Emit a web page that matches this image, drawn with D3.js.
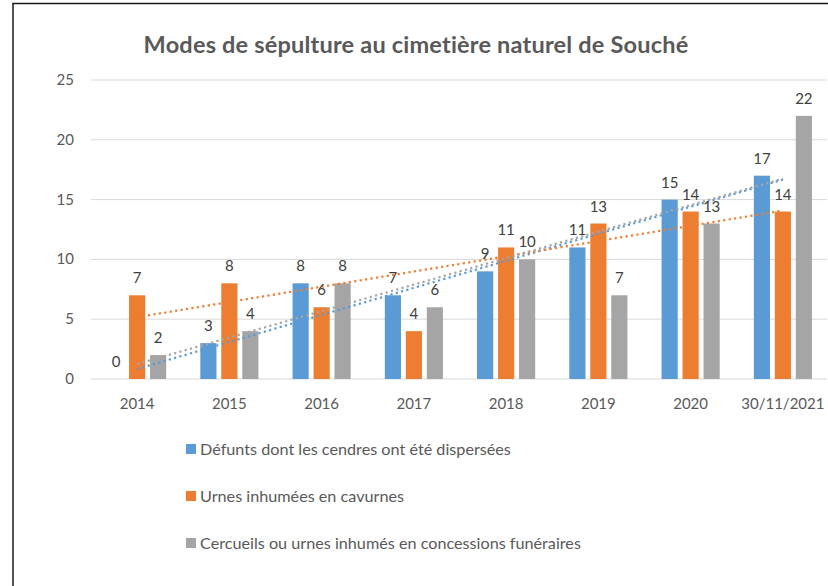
<!DOCTYPE html>
<html>
<head>
<meta charset="utf-8">
<script src="https://cdn.jsdelivr.net/npm/d3@7"></script>
<style>
  body { margin: 0; background: #fff; }
  text { font-family: Lato, "Open Sans", sans-serif; }
</style>
</head>
<body>
<div id="chart"></div>
<script>
//Data
const categories = ["2014", "2015", "2016", "2017", "2018", "2019", "2020", "30/11/2021"];
const dispersees = [0, 3, 8, 7, 9, 11, 15, 17];
const cavurnes = [7, 8, 6, 4, 11, 13, 14, 14];
const concessions = [2, 4, 8, 6, 10, 7, 13, 22];
const seriesNames = [
    "Défunts dont les cendres ont été dispersées",
    "Urnes inhumées en cavurnes",
    "Cercueils ou urnes inhumés en concessions funéraires"
];
const colors = ["#5B9BD5", "#ED7D31", "#A5A5A5"];
const yTicks = [0, 5, 10, 15, 20, 25];

//Dim
const width = 828;
const height = 586;
const plot = {left: 91, right: 829, top: 80, bottom: 379};

const series = [dispersees, cavurnes, concessions].map((values, i) => ({
    name: seriesNames[i],
    color: colors[i],
    values: values
}));

//Create SVG
const svg = d3.select("#chart")
    .append("svg")
    .attr("width", width)
    .attr("height", height);

//Frame
svg.append("rect")
    .attr("x", 13)
    .attr("y", 3.5)
    .attr("width", 900)
    .attr("height", 700)
    .attr("fill", "#fff")
    .attr("stroke", "#1a1a1a")
    .attr("stroke-width", 1.5);

//Scales
const x0 = d3.scaleBand()
    .domain(categories)
    .range([plot.left, plot.right]);

const x1 = d3.scaleBand()
    .domain(d3.range(series.length))
    .range([x0.bandwidth() * 0.185, x0.bandwidth() * 0.815])
    .paddingInner(0.23);

const y = d3.scaleLinear()
    .domain([0, 25])
    .range([plot.bottom, plot.top]);

//Gridlines
svg.append("g")
    .selectAll("line")
    .data(yTicks)
    .enter()
    .append("line")
    .attr("x1", plot.left)
    .attr("x2", plot.right - 2)
    .attr("y1", d => y(d))
    .attr("y2", d => y(d))
    .attr("stroke", "#d9d9d9")
    .attr("stroke-width", 1);

//Y labels
svg.append("g")
    .selectAll("text")
    .data(yTicks)
    .enter()
    .append("text")
    .text(d => d)
    .attr("x", 74)
    .attr("y", d => y(d) + 5)
    .attr("text-anchor", "end")
    .attr("font-size", 15)
    .attr("fill", "#595959");

//X labels
svg.append("g")
    .selectAll("text")
    .data(categories)
    .enter()
    .append("text")
    .text(d => d)
    .attr("x", d => x0(d) + x0.bandwidth() / 2)
    .attr("y", 409)
    .attr("text-anchor", "middle")
    .attr("font-size", 15)
    .attr("fill", "#595959");

//Bars
const groups = svg.append("g")
    .selectAll("g")
    .data(series)
    .enter()
    .append("g")
    .attr("fill", d => d.color);

groups.selectAll("rect")
    .data((d, i) => d.values.map((v, j) => ({v: v, cat: categories[j], s: i})))
    .enter()
    .append("rect")
    .attr("x", d => x0(d.cat) + x1(d.s))
    .attr("y", d => y(d.v))
    .attr("width", x1.bandwidth())
    .attr("height", d => y(0) - y(d.v));

//Trendlines (linear regression, like Excel)
const trend = svg.append("g");
series.forEach(s => {
    const pts = s.values.map((v, j) => [j + 1, v]);
    const mx = d3.mean(pts, p => p[0]);
    const my = d3.mean(pts, p => p[1]);
    const slope = d3.sum(pts, p => (p[0] - mx) * (p[1] - my)) / d3.sum(pts, p => (p[0] - mx) ** 2);
    const f = t => my + slope * (t - mx);
    const xc = t => x0(categories[t - 1]) + x0.bandwidth() / 2;
    trend.append("line")
        .attr("x1", xc(1))
        .attr("y1", y(f(1)))
        .attr("x2", xc(categories.length))
        .attr("y2", y(f(categories.length)))
        .attr("stroke", s.color)
        .attr("stroke-width", 2.2)
        .attr("stroke-dasharray", "2.2,3.3");
});

//Data labels
const labels = svg.append("g");
series.forEach((s, i) => {
    labels.selectAll(null)
        .data(s.values.map((v, j) => ({v: v, cat: categories[j]})))
        .enter()
        .append("text")
        .text(d => d.v)
        .attr("x", d => x0(d.cat) + x1(i) + x1.bandwidth() / 2)
        .attr("y", d => y(d.v) - 12)
        .attr("text-anchor", "middle")
        .attr("font-size", 15)
        .attr("fill", "#404040");
});

//Title
svg.append("text")
    .text("Modes de sépulture au cimetière naturel de Souché")
    .attr("x", 416)
    .attr("y", 53)
    .attr("text-anchor", "middle")
    .attr("font-size", 23.5)
    .attr("letter-spacing", 0.2)
    .attr("font-weight", "bold")
    .attr("fill", "#595959");

//Legend
const legend = svg.append("g")
    .selectAll("g")
    .data(series)
    .enter()
    .append("g")
    .attr("transform", (d, i) => `translate(186, ${449 + i * 47})`);

legend.append("rect")
    .attr("x", 0)
    .attr("y", -5)
    .attr("width", 10)
    .attr("height", 10)
    .attr("fill", d => d.color);

legend.append("text")
    .text(d => d.name)
    .attr("x", 14)
    .attr("y", 5.5)
    .attr("font-size", 16.2)
    .attr("fill", "#595959");
</script>
</body>
</html>
